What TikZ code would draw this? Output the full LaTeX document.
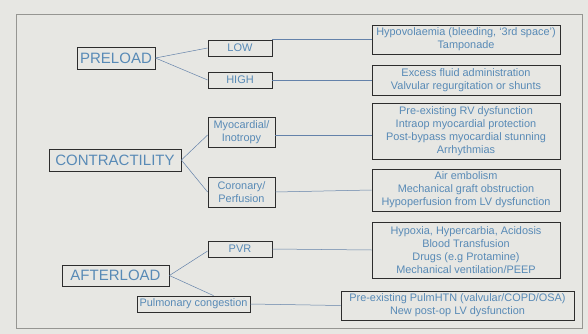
\documentclass[tikz,border=0pt]{standalone}
\usepackage{fontspec}
\setmainfont{Liberation Sans}
\definecolor{bgpaper}{RGB}{231,231,227}
\definecolor{framegray}{RGB}{150,150,146}
\definecolor{boxline}{RGB}{45,45,45}
\definecolor{txtblue}{RGB}{88,138,182}
\definecolor{linkblue}{RGB}{100,130,170}
\begin{document}
\begin{tikzpicture}[x=1pt,y=-1pt]
	\tikzset{
		box/.style={draw=boxline, line width=0.8pt, text=txtblue, align=center, inner sep=0pt},
		bigbox/.style={box, font=\fontsize{15}{18}\selectfont},
		midbox/.style={box, font=\fontsize{11}{13}\selectfont},
		smallbox/.style={box, font=\fontsize{10.9}{13}\selectfont},
		link/.style={draw=linkblue, line width=0.5pt}
	}
	\useasboundingbox[fill=bgpaper] (0,0) rectangle (588,334);
	\draw[framegray, line width=0.8pt] (16,14) rectangle (582,328);

	\node[bigbox, minimum width=78, minimum height=22] (preload) at (116,58) {PRELOAD};
	\node[midbox, minimum width=64, minimum height=16] (low) at (240,48) {LOW};
	\node[midbox, minimum width=64, minimum height=16] (high) at (240,80) {HIGH};
	\node[smallbox, minimum width=188, minimum height=29] (hypo) at (466,39.5) {Hypovolaemia (bleeding, `3rd space')\\Tamponade};
	\node[smallbox, minimum width=188, minimum height=30] (excess) at (466,80) {Excess fluid administration\\Valvular regurgitation or shunts};

	\node[bigbox, minimum width=132, minimum height=22] (contr) at (115,160) {CONTRACTILITY};
	\node[smallbox, minimum width=67, minimum height=30] (myo) at (241.5,132) {Myocardial/\\Inotropy};
	\node[smallbox, minimum width=67, minimum height=30] (cor) at (241.5,192) {Coronary/\\Perfusion};
	\node[smallbox, minimum width=188, minimum height=56] (rv) at (466,131) {Pre-existing RV dysfunction\\Intraop myocardial protection\\Post-bypass myocardial stunning\\Arrhythmias};
	\node[smallbox, minimum width=188, minimum height=42] (air) at (466,190) {Air embolism\\Mechanical graft obstruction\\Hypoperfusion from LV dysfunction};

	\node[bigbox, minimum width=107, minimum height=21] (after) at (115.5,275.5) {AFTERLOAD};
	\node[midbox, minimum width=64, minimum height=16] (pvr) at (240,249) {PVR};
	\node[smallbox, minimum width=113, minimum height=16] (pulm) at (193.5,304) {Pulmonary congestion};
	\node[smallbox, minimum width=188, minimum height=56] (hypox) at (466,250) {Hypoxia, Hypercarbia, Acidosis\\Blood Transfusion\\Drugs (e.g Protamine)\\Mechanical ventilation/PEEP};
	\node[smallbox, minimum width=233, minimum height=29] (pulmhtn) at (457.5,305.5) {Pre-existing PulmHTN (valvular/COPD/OSA)\\New post-op LV dysfunction};

	\draw[link] (preload.east) -- (low.west);
	\draw[link] (preload.east) -- (high.west);
	\draw[link] (low.east |- hypo.west) -- (hypo.west);
	\draw[link] (high.east) -- (excess.west);

	\draw[link] (contr.east) -- ([yshift=-3]myo.west);
	\draw[link] (contr.east) -- (cor.west);
	\draw[link] ([yshift=-3]myo.east) -- ([yshift=-3]myo.east -| rv.west);
	\draw[link] (cor.east) -- (air.west);

	\draw[link] (after.east) -- ([yshift=-2]pvr.west);
	\draw[link] (after.east) -- ([xshift=20]pulm.north);
	\draw[link] (pvr.east) -- (hypox.west);
	\draw[link] (pulm.east) -- (pulmhtn.west);
\end{tikzpicture}
\end{document}
